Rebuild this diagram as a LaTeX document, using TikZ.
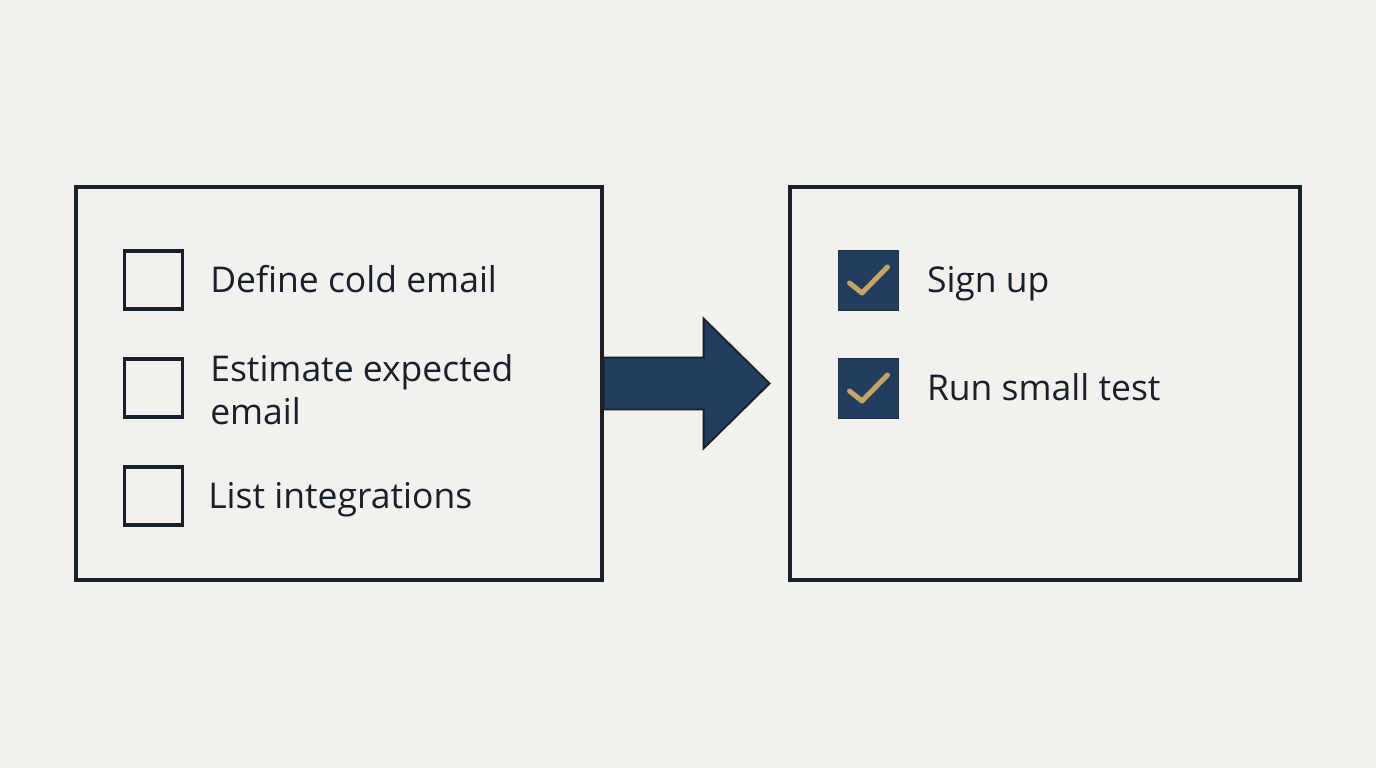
\documentclass[tikz,border=0pt]{standalone}
\usepackage{fontspec}
\setmainfont{Open Sans}
\usetikzlibrary{positioning}
\definecolor{paper}{HTML}{F2F1ED}
\definecolor{ink}{HTML}{17202B}
\definecolor{navy}{HTML}{233D5E}
\definecolor{gold}{HTML}{C8A464}
\begin{document}
\begin{tikzpicture}[x=1pt,y=-1pt,
	panel/.style={draw=ink, line width=3.2pt, inner sep=0pt, minimum height=393pt},
	openbox/.style={draw=ink, line width=3.2pt, inner sep=0pt, minimum size=58pt},
	donebox/.style={fill=navy, draw=navy!80!black, line width=0.6pt, inner sep=0pt, minimum size=60pt},
	tick/.style={draw=gold, line width=5pt, line cap=round, line join=round},
	item/.style={anchor=west, inner sep=0pt, text=ink, text height=25pt, text depth=0pt,
		font=\fontsize{35.5}{43}\selectfont, align=left}]
	% page
	\fill[paper] (0,0) rectangle (1376,768);
	\useasboundingbox (0,0) rectangle (1376,768);
	% panels
	\node[panel, minimum width=526pt] (todo) at (339,383.5) {};
	\node[panel, minimum width=510pt] (done) at (1045,383.5) {};
	% arrow between panels
	\draw[fill=navy, draw=ink, line width=1.8pt, line join=miter]
		([shift={(0,-26)}]todo.east) -- ([shift={(100,-26)}]todo.east)
		-- ([shift={(100,-65)}]todo.east) -- ([shift={(166,0)}]todo.east)
		-- ([shift={(100,65)}]todo.east) -- ([shift={(100,26)}]todo.east)
		-- ([shift={(0,26)}]todo.east) -- cycle;
	% open items
	\node[openbox] (b1) at (153.5,280) {};
	\node[openbox] (b2) at (153.5,388) {};
	\node[openbox] (b3) at (153.5,496) {};
	\node[item, right=26pt of b1] (t1) {Define cold email};
	\node[item, right=26pt of b2, text height=68pt, yshift=-2pt] (t2) {Estimate expected\\email};
	\node[item, right=24pt of b3] (t3) {List integrations};
	% done items
	\node[donebox] (c1) at (868.5,280) {};
	\node[donebox] (c2) at (868.5,388) {};
	\foreach \c in {c1,c2}{
		\draw[tick] ([shift={(-19,3)}]\c.center) -- ([shift={(-6.5,13)}]\c.center)
			-- ([shift={(19,-13)}]\c.center);
	}
	\node[item, right=28pt of c1] (t4) {Sign up};
	\node[item, right=28pt of c2] (t5) {Run small test};
\end{tikzpicture}
\end{document}
